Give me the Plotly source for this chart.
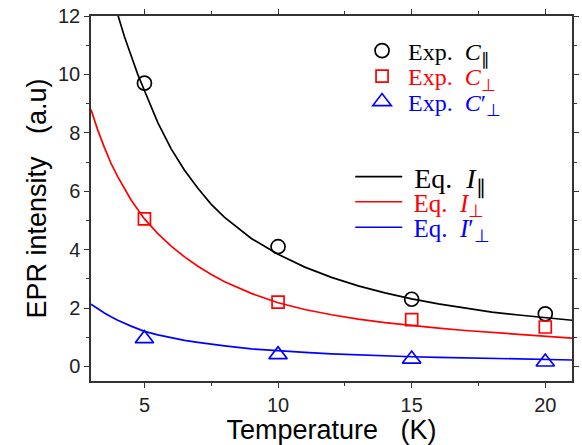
import plotly.graph_objects as go

temps_exp = [5, 10, 15, 20]
c_par = [9.7, 4.1, 2.3, 1.8]
c_perp = [5.05, 2.2, 1.6, 1.35]
c_perp_p = [0.95, 0.4, 0.25, 0.15]

# Fitted curves
t_par_curve = [4.0, 4.25, 4.5, 4.75, 5, 5.5, 6, 6.5, 7, 7.5, 8, 9, 10, 11, 12, 13, 14, 15, 16, 17, 18, 19, 20, 21]
i_par = [12.05, 11.3, 10.65, 10.0, 9.45, 8.35, 7.45, 6.72, 6.1, 5.55, 5.1, 4.38, 3.84, 3.4, 3.05, 2.76, 2.52, 2.31, 2.14, 1.99, 1.86, 1.76, 1.67, 1.58]
t_curve = [3, 3.25, 3.5, 3.75, 4, 4.5, 5, 5.5, 6, 6.5, 7, 7.5, 8, 9, 10, 11, 12, 13, 14, 15, 16, 17, 18, 19, 20, 21]
i_perp = [8.8, 8.1, 7.5, 6.95, 6.5, 5.7, 5.05, 4.55, 4.12, 3.75, 3.43, 3.15, 2.9, 2.5, 2.18, 1.95, 1.77, 1.62, 1.5, 1.4, 1.31, 1.23, 1.16, 1.09, 1.03, 0.97]
i_perp_p = [2.13, 1.97, 1.83, 1.7, 1.58, 1.38, 1.2, 1.08, 0.98, 0.89, 0.82, 0.75, 0.7, 0.6, 0.53, 0.48, 0.43, 0.39, 0.36, 0.33, 0.31, 0.29, 0.27, 0.25, 0.24, 0.22]

x_ticks = [5, 10, 15, 20]
y_ticks = [0, 2, 4, 6, 8, 10, 12]

SERIF = "Liberation Serif, Times New Roman, serif"
SANS = "Liberation Sans, Arial, sans-serif"
SP = "\u00a0"

fig = go.Figure()

# fitted curves
fig.add_trace(go.Scatter(x=t_par_curve, y=i_par, mode="lines", legend="legend4",
    name=f'<span style="color:black">{SP}Eq.{SP*2}<i>I</i><sub>∥</sub></span>',
    line=dict(color="black", width=1.7)))
fig.add_trace(go.Scatter(x=t_curve, y=i_perp, mode="lines", legend="legend5",
    name=f'<span style="color:red">{SP}Eq.{SP*2}<i>I</i><sub>⊥</sub></span>',
    line=dict(color="red", width=1.7)))
fig.add_trace(go.Scatter(x=t_curve, y=i_perp_p, mode="lines", legend="legend6",
    name=f'<span style="color:blue">{SP}Eq.{SP*2}<i>I</i>′<sub>⊥</sub></span>',
    line=dict(color="blue", width=1.7)))

# experimental points
fig.add_trace(go.Scatter(x=temps_exp, y=c_par, mode="markers", legend="legend",
    name=f'<span style="color:black">{SP}Exp.{SP*2}<i>C</i><sub>∥</sub></span>',
    marker=dict(symbol="circle-open", size=14, color="black", line=dict(width=1.7))))
fig.add_trace(go.Scatter(x=temps_exp, y=c_perp, mode="markers", legend="legend2",
    name=f'<span style="color:red">{SP}Exp.{SP*2}<i>C</i><sub>⊥</sub></span>',
    marker=dict(symbol="square-open", size=12, color="red", line=dict(width=1.7))))
fig.add_trace(go.Scatter(x=temps_exp, y=c_perp_p, mode="markers", legend="legend3",
    name=f'<span style="color:blue">{SP}Exp.{SP*2}<i>C</i>′<sub>⊥</sub></span>',
    marker=dict(symbol="triangle-up-open", size=16, color="blue", line=dict(width=1.7))))

axis_common = dict(
    showline=True, linecolor="#333", linewidth=1.5, mirror="ticks",
    ticks="outside", ticklen=5, tickwidth=1.3, tickcolor="#333",
    showgrid=False, zeroline=False,
    tickfont=dict(family=SANS, size=20, color="#222"),
)

L, R, T, B = 91, 3, 16, 64
W, H = 582, 445
PW, PH = W - L - R, H - T - B

def px(xp):
    return (xp - L) / PW

def py(yp):
    return (H - B - yp) / PH

def leg(xp, yp, size, iw):
    return dict(x=px(xp), y=py(yp), xanchor="left", yanchor="middle",
                bgcolor="rgba(0,0,0,0)", borderwidth=0,
                font=dict(family=SERIF, size=size), itemwidth=iw, visible=True)

fig.update_layout(
    width=W, height=H,
    showlegend=True,
    margin=dict(l=L, r=R, t=T, b=B),
    plot_bgcolor="white", paper_bgcolor="white",
    xaxis=dict(range=[3, 21], tickvals=x_ticks,
               minor=dict(dtick=2.5, tick0=0, ticks="outside", ticklen=3, tickcolor="#333"),
               title=dict(text=f"Temperature{SP*3}(K)", standoff=0,
                          font=dict(family=SANS, size=27, color="black")),
               **axis_common),
    yaxis=dict(range=[-0.5, 12], tickvals=y_ticks,
               minor=dict(dtick=1, tick0=0, ticks="outside", ticklen=3, tickcolor="#333"),
               title=dict(text=f"EPR intensity{SP*3}(a.u)", standoff=4,
                          font=dict(family=SANS, size=27, color="black")),
               **axis_common),
    legend=leg(366, 51, 24, 30),
    legend2=leg(366, 76.5, 24, 30),
    legend3=leg(366, 102, 24, 30),
    legend4=leg(354, 177, 28, 47),
    legend5=leg(354, 202, 25, 47),
    legend6=leg(354, 227.5, 25, 47),
)

fig.write_html("out.html", config={"displayModeBar": False},
               post_script="document.body.style.margin='0px';")
